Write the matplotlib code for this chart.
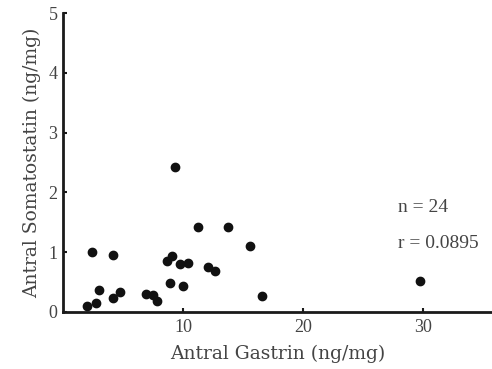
import matplotlib
matplotlib.use("Agg")
import matplotlib.pyplot as plt

# antral gastrin (ng/mg) vs antral somatostatin (ng/mg)
gastrin = [2.03, 2.39, 2.78, 3.0, 4.17, 4.19, 4.75, 6.89, 7.47, 7.83, 8.64, 9.08,
           8.92, 9.36, 9.78, 10.0, 10.42, 11.22, 12.11, 12.69, 13.72, 15.56, 16.6, 29.75]
somatostatin = [0.10, 1.0, 0.15, 0.37, 0.95, 0.24, 0.33, 0.30, 0.28, 0.18, 0.86, 0.94,
                0.48, 2.43, 0.81, 0.43, 0.82, 1.42, 0.76, 0.68, 1.43, 1.11, 0.27, 0.52]
xticks = [10, 20, 30]
yticks = [0, 1, 2, 3, 4, 5]

plt.rcParams["font.family"] = ["Liberation Serif", "DejaVu Serif"]
txt = "#444444"

fig = plt.figure(figsize=(4.92, 3.69), dpi=100)
ax = fig.add_axes([0.128, 0.1545, 0.872, 0.81])
ax.scatter(gastrin, somatostatin, s=36, color="#111111", zorder=3, clip_on=False)

ax.set_xlim(0, 35.75)
ax.set_ylim(0, 5)
ax.set_xticks(xticks)
ax.set_yticks(yticks)
for s in ["top", "right"]:
    ax.spines[s].set_visible(False)
for s in ["left", "bottom"]:
    ax.spines[s].set_linewidth(2)
    ax.spines[s].set_color("#1a1a1a")
ax.tick_params(direction="in", length=3, width=1.5, colors="#1a1a1a",
               labelcolor=txt, labelsize=13, pad=5)
ax.tick_params(axis="y", pad=4)

ax.set_xlabel("Antral Gastrin (ng/mg)", fontsize=13.5, color=txt, labelpad=6,
              family="DejaVu Serif")
ax.set_ylabel("Antral Somatostatin (ng/mg)", fontsize=13.5, color=txt, labelpad=5,
              family="DejaVu Serif")

ax.text(27.9, 1.74, "n = 24", fontsize=14, color=txt, va="center")
ax.text(27.9, 1.15, "r = 0.0895", fontsize=14, color=txt, va="center")

fig.savefig("out.png", dpi=100)
